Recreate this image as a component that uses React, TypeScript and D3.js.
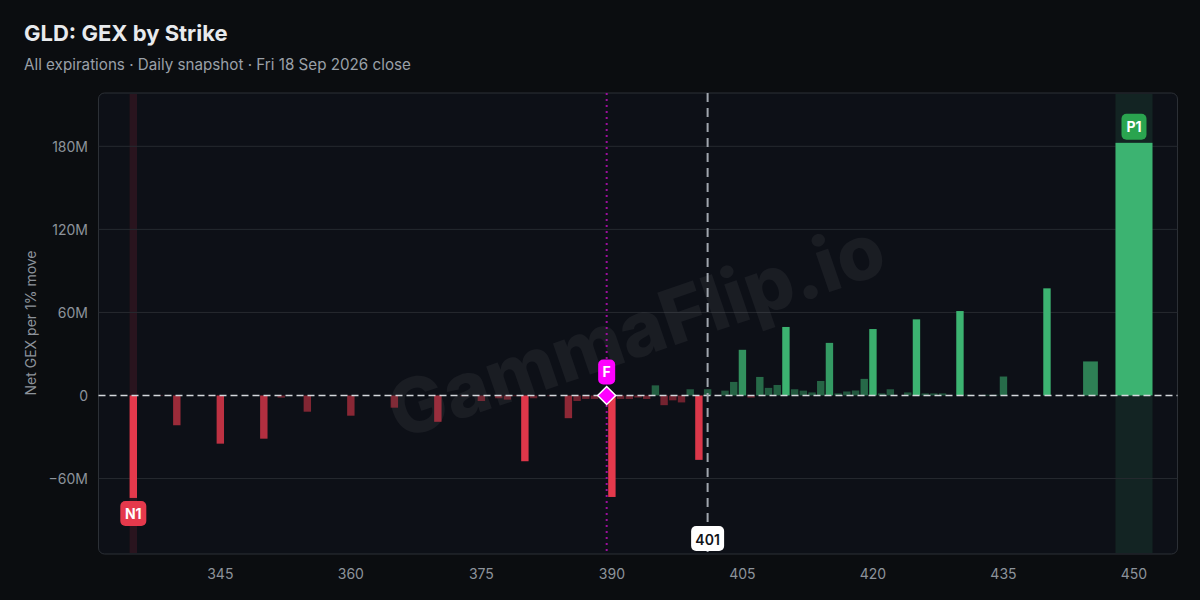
import React from "react"
import * as d3 from "d3"

// strikes in the chain (every listed strike, incl. ones with ~0 GEX)
const strikes = [
  335, 336, 337, 338, 339, 340, 341, 342, 343, 344, 345, 346, 347, 348, 349, 350,
  351, 352, 353, 354, 355, 356, 357, 358, 359, 360, 361, 362, 363, 364, 365, 366,
  367, 368, 369, 370, 371, 372, 373, 374, 375, 376, 377, 378, 379, 380, 381, 382,
  383, 384, 385, 386, 387, 388, 389, 390, 391, 392, 393, 394, 395, 396, 397, 398,
  399, 400, 401, 402, 403, 404, 405, 406, 407, 408, 409, 410, 411, 412, 413, 414,
  415, 416, 417, 418, 419, 420, 421, 422, 423, 424, 425, 426, 427, 428, 429, 430,
  431, 432, 433, 434, 435, 436, 437, 438, 439, 440, 441, 442, 443, 445, 450
]

// net GEX per 1% move, in millions
const gex = [
  -74, 0, 0, -0.3, 0, -21.5, 0, 0, 0, -0.4, -34.8, 0, 0, 0, 0, -31.2,
  0, -1.6, 0, 0, -11.7, 0, 0, -0.3, 0, -14.6, 0, 0, 0, 0, -8.8, 0,
  0, 0, 0, -19, 0, 0, -0.5, 0, -4, 0, -2, -3, -0.5, -47.5, -2, 0,
  -0.5, 0, -16.4, -4, -2.5, -2.5, 0, -73.3, -2.5, -2.5, -1.5, -2.5, 7.3, -7, -3.5, -5,
  4.5, -46.5, 4.5, 0, 3.5, 9.8, 33, -1.5, 13.4, 5.5, 7.6, 49.5, 4.5, 3.5, 2.2, 10.5,
  38, 1.5, 2.9, 3.6, 12, 48, 1.5, 4.5, 0, 2.2, 55, 1.5, 1.5, 1.5, 0, 61,
  0.5, 0, 0.5, 0.5, 13.7, 0, 0, 0, 0, 77.4, 0, 0, 0, 24.6, 182.5
]

const xTicks = [345, 360, 375, 390, 405, 420, 435, 450]
const yTicks = [-60, 0, 60, 120, 180]

const spot = 401
const flip = 389.4
const topNegative = { strike: 335, label: "N1" }
const topPositive = { strike: 450, label: "P1" }

const title = "GLD: GEX by Strike"
const subtitle = "All expirations · Daily snapshot · Fri 18 Sep 2026 close"
const yLabel = "Net GEX per 1% move"
const watermark = "GammaFlip.io"

const width = 1200
const height = 600
const plot = { left: 98.5, right: 1177.5, top: 93, bottom: 554 }

const font = "Inter, 'Noto Sans', sans-serif"
const red = "#e5394c"
const green = "#3cb371"

const fmtY = (v: number) => (v === 0 ? "0" : `${v < 0 ? "\u2212" : ""}${Math.abs(v)}M`)

export default function App() {
  const x = d3.scaleLinear().domain([331, 455]).range([plot.left, plot.right])
  const y = d3.scaleLinear().domain([-114.5, 218.5]).range([plot.bottom, plot.top])

  const bars = strikes.map((s, i) => {
    const gap = i === 0 ? strikes[1] - s : s - strikes[i - 1]
    const w = (x(s + gap) - x(s)) * 0.85
    const v = gex[i]
    const alpha = 0.4 + 0.6 * Math.min(1, Math.abs(v) / 50)
    return { s, v, w, alpha }
  })

  const barOf = (s: number) => bars.find(b => b.s === s)!
  const n1 = barOf(topNegative.strike)
  const p1 = barOf(topPositive.strike)

  const wm = { x: 638, y: 336 }

  return (
    <div style={{ position: "fixed", left: 0, top: 0, width, height, background: "#0b0d10" }}>
      <svg width={width} height={height} style={{ display: "block", fontFamily: font }}>
        <rect width={width} height={height} fill="#0b0d10" />
        <text x={24} y={41} fill="#e8eaed" fontSize={22} fontWeight={700}>{title}</text>
        <text x={24} y={70} fill="#9aa0a8" fontSize={15.2}>{subtitle}</text>

        <rect
          x={plot.left} y={plot.top}
          width={plot.right - plot.left} height={plot.bottom - plot.top}
          rx={6} fill="#0d1017" stroke="#2c3036"
        />

        {/* highlight bands for top levels */}
        <rect x={x(n1.s) - n1.w / 2} y={plot.top + 1} width={n1.w} height={plot.bottom - plot.top - 2}
          fill={red} opacity={0.13} />
        <rect x={x(p1.s) - p1.w / 2} y={plot.top + 1} width={p1.w} height={plot.bottom - plot.top - 2}
          fill={green} opacity={0.13} />

        {yTicks.filter(t => t !== 0).map(t => (
          <line key={t} x1={plot.left} x2={plot.right} y1={y(t)} y2={y(t)} stroke="#262a30" />
        ))}

        <text
          x={wm.x} y={wm.y} fill="#ffffff" opacity={0.05}
          fontSize={76} fontWeight={800} textAnchor="middle" dominantBaseline="middle"
          transform={`rotate(-19 ${wm.x} ${wm.y})`}
        >{watermark}</text>

        {bars.filter(b => b.v !== 0).map(b => (
          <rect
            key={b.s}
            x={x(b.s) - b.w / 2}
            y={y(Math.max(0, b.v))}
            width={b.w}
            height={Math.abs(y(b.v) - y(0))}
            fill={b.v < 0 ? red : green}
            fillOpacity={b.alpha}
          />
        ))}

        {/* flip level */}
        <line x1={x(flip)} x2={x(flip)} y1={plot.top} y2={plot.bottom}
          stroke="#9b0f9b" strokeWidth={2} strokeDasharray="2 4" />

        {/* zero line */}
        <line x1={plot.left} x2={plot.right} y1={y(0)} y2={y(0)}
          stroke="#d4d7dc" strokeWidth={1.5} strokeDasharray="7 4" />

        {/* spot */}
        <line x1={x(spot)} x2={x(spot)} y1={plot.top} y2={plot.bottom}
          stroke="#a0a6ae" strokeWidth={2} strokeDasharray="9 6" />
        <rect x={x(spot) - 16.5} y={526} width={33} height={25} rx={5} fill="#ffffff" />
        <text x={x(spot)} y={539} fill="#111318" fontSize={14} fontWeight={600}
          textAnchor="middle" dominantBaseline="central">{spot}</text>

        {/* flip marker */}
        <path
          d={`M${x(flip)},${y(0) - 9} L${x(flip) + 9},${y(0)} L${x(flip)},${y(0) + 9} L${x(flip) - 9},${y(0)} Z`}
          fill="#ff00ff" stroke="#ffffff" strokeWidth={1.5}
        />
        <rect x={x(flip) - 8.5} y={y(0) - 36} width={17} height={25} rx={5} fill="#ff00ff" />
        <text x={x(flip)} y={y(0) - 23.5} fill="#ffffff" fontSize={14} fontWeight={700}
          textAnchor="middle" dominantBaseline="central">F</text>

        {/* N1 / P1 badges */}
        <rect x={x(n1.s) - 13} y={y(n1.v) + 3} width={26} height={25} rx={5} fill={red} />
        <text x={x(n1.s)} y={y(n1.v) + 15.5} fill="#ffffff" fontSize={14} fontWeight={700}
          textAnchor="middle" dominantBaseline="central">{topNegative.label}</text>
        <rect x={x(p1.s) - 12.5} y={y(p1.v) - 29} width={25} height={26} rx={5} fill="#2aa44f" />
        <text x={x(p1.s)} y={y(p1.v) - 16} fill="#ffffff" fontSize={14} fontWeight={700}
          textAnchor="middle" dominantBaseline="central">{topPositive.label}</text>

        {yTicks.map(t => (
          <text key={t} x={88} y={y(t)} fill="#8d939b" fontSize={14}
            textAnchor="end" dominantBaseline="central">{fmtY(t)}</text>
        ))}
        {xTicks.map(t => (
          <text key={t} x={x(t)} y={573} fill="#8d939b" fontSize={14}
            textAnchor="middle" dominantBaseline="central">{t}</text>
        ))}
        <text
          x={30} y={323} fill="#8d939b" fontSize={14} textAnchor="middle"
          dominantBaseline="central" transform="rotate(-90 30 323)"
        >{yLabel}</text>
      </svg>
    </div>
  )
}
